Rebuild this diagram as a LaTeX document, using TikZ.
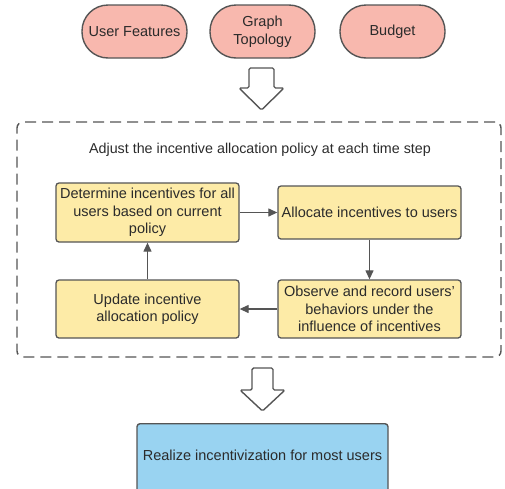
\documentclass[tikz,border=0pt]{standalone}
\usepackage{fontspec}
\setmainfont{Liberation Sans}
\usetikzlibrary{arrows.meta}
\definecolor{pillfill}{HTML}{F8B8AE}
\definecolor{boxfill}{HTML}{FDEBA7}
\definecolor{bluefill}{HTML}{99D3F1}
\definecolor{edge}{HTML}{555555}
\definecolor{txt}{HTML}{2B2B2B}
\tikzset{
  pill/.style={draw=edge, line width=1.4pt, fill=pillfill, rounded corners=26pt,
    minimum width=105pt, minimum height=53pt, inner sep=0pt, align=center,
    text=txt, font=\fontsize{14.5}{17.5}\selectfont},
  stepbox/.style={draw=edge, line width=1.3pt, fill=boxfill, rounded corners=3pt,
    minimum width=183pt, inner sep=0pt, align=center, text=txt,
    font=\fontsize{14.5}{17.3}\selectfont},
  flow/.style={draw=edge, line width=1.2pt, -{Triangle[length=9pt,width=8pt]}},
  blockarrow/.style={draw=edge, line width=1.4pt, fill=white, rounded corners=1.5pt, line join=round},
}
\begin{document}
\begin{tikzpicture}[x=1pt,y=-1pt]
\clip (0,0) rectangle (505,488);
\useasboundingbox (0,0) rectangle (505,488);
% top pills
\node[pill] (uf) at (134.5,31.5) {User Features};
\node[pill] (gt) at (262.5,31.5) {Graph\\Topology};
\node[pill] (bd) at (392.5,31.5) {Budget};
% top block arrow
\draw[blockarrow] (249,68) -- (274,68) -- (274,88) -- (284,88) -- (261.5,110) -- (239,88) -- (249,88) -- cycle;
% dashed frame
\node[draw=edge, line width=1.4pt, dash pattern=on 11pt off 6pt, rounded corners=6pt,
  minimum width=484pt, minimum height=235pt, inner sep=0pt] (frame) at (259,239.5) {};
\node[text=txt, font=\fontsize{14.3}{17}\selectfont] (title) at (260,150) {Adjust the incentive allocation policy at each time step};
% steps
\node[stepbox, minimum height=59pt] (det) at (147.5,212.5) {Determine incentives for all\\users based on current\\policy};
\node[stepbox, minimum height=53pt] (alloc) at (369.5,212.5) {Allocate incentives to users};
\node[stepbox, minimum height=58pt] (obs) at (369.5,309) {Observe and record users'\\behaviors under the\\influence of incentives};
\node[stepbox, minimum height=58pt] (upd) at (147.5,309) {Update incentive\\allocation policy};
\draw[flow] (det.east) -- (alloc.west);
\draw[flow] (alloc.south) -- (obs.north);
\draw[flow] (obs.west) -- (upd.east);
\draw[flow] (upd.north) -- (det.south);
% bottom block arrow
\draw[blockarrow] (252,368) -- (273,368) -- (273,390) -- (285,390) -- (262.5,411) -- (240,390) -- (252,390) -- cycle;
% result box
\node[draw=edge, line width=1.4pt, fill=bluefill, rounded corners=3pt, minimum width=251pt,
  minimum height=70pt, inner sep=0pt, anchor=north] (res) at (262.5,423) {};
\node[text=txt, font=\fontsize{14.5}{17}\selectfont] (restext) at (262.5,455) {Realize incentivization for most users};
\end{tikzpicture}
\end{document}
